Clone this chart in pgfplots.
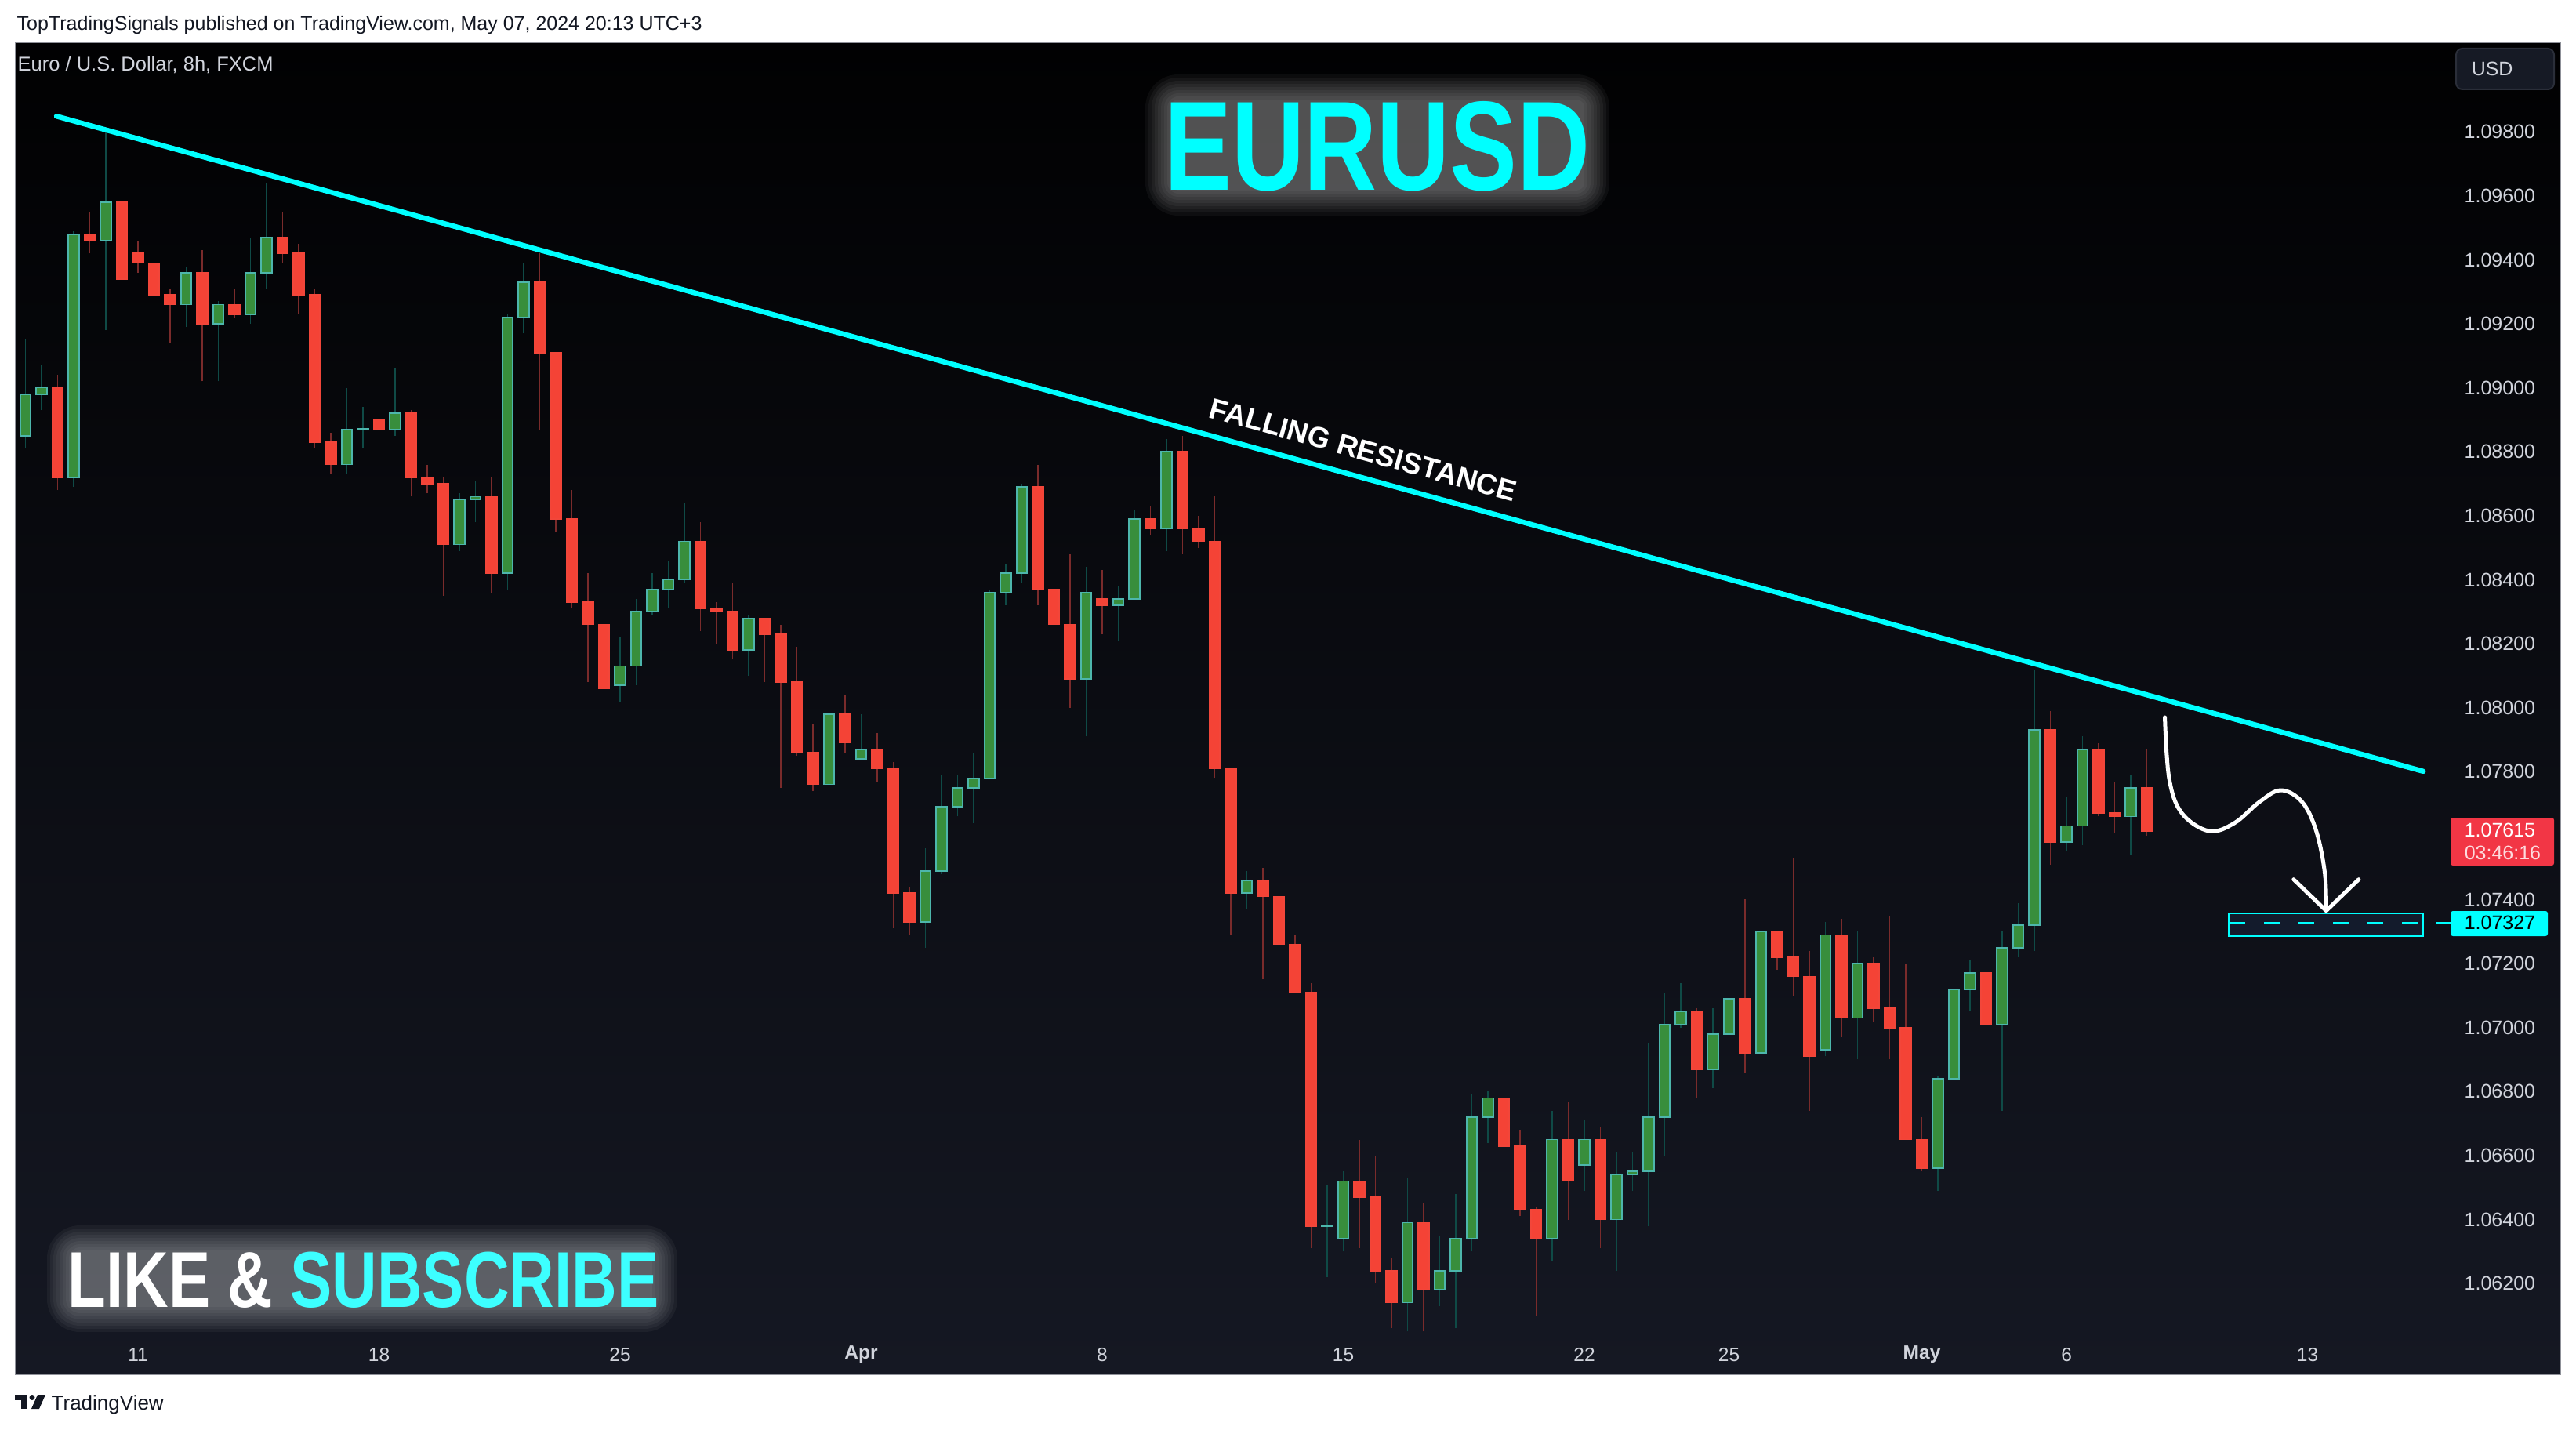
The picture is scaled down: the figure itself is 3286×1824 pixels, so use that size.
\documentclass[border=0pt]{standalone}
\usepackage{graphicx}
\usepackage{fontspec}
\setmainfont{Liberation Sans}
\usepackage{pgfplots}
\usepackage{pgfplotstable}
\pgfplotsset{compat=1.18}

\definecolor{tvcyan}{HTML}{00FFFF}
\definecolor{subcyan}{HTML}{3DFFFF}
\definecolor{upbody}{HTML}{388E3C}
\definecolor{upedge}{HTML}{4DB6AC}
\definecolor{upwick}{HTML}{0F4A46}
\definecolor{dnbody}{HTML}{F44336}
\definecolor{dnedge}{HTML}{F2463A}
\definecolor{dnwick}{HTML}{7A2B2B}
\definecolor{panetop}{HTML}{010102}
\definecolor{panebot}{HTML}{151823}
\definecolor{paneline}{HTML}{8F9199}
\definecolor{scaletxt}{HTML}{D1D4DC}
\definecolor{hdrtxt}{HTML}{131722}
\definecolor{tagred}{HTML}{F23645}
\definecolor{boxfill}{HTML}{131B2C}
\definecolor{usdfill}{HTML}{161A25}
\definecolor{usdline}{HTML}{2A2E39}

\newcommand\fsz[1]{\fontsize{#1mm}{#1mm}\selectfont}

% soft halo behind a text: stacked faint rounded boxes (x1,y1,x2,y2 in px)
\newcommand\glow[4]{%
  \foreach \e in {0,4,...,32}{%
    \pgfmathsetmacro\rc{(\e+10)*0.1}%
    \fill[white, opacity=0.042, rounded corners=\rc mm]
      ({#1-\e},{#2-\e}) rectangle ({#3+\e},{#4+\e});}}

\tikzset{
  wickup/.style={draw=upwick, line width=0.18mm, mark=none},
  wickdn/.style={draw=dnwick, line width=0.18mm, mark=none},
  bodyup/.style={draw=upedge, fill=upbody, line width=0.17mm, mark=none},
  bodydn/.style={draw=dnedge, fill=dnbody, line width=0.17mm, mark=none},
}

% EURUSD 8h candles, index 0 = Mar 11 00:00 (weekdays only)
\pgfplotstableread{
i o h l c
-7 1.0885 1.0915 1.0881 1.0898
-6 1.0898 1.0907 1.0893 1.0900
-5 1.0900 1.0904 1.0868 1.0872
-4 1.0872 1.0949 1.0869 1.0948
-3 1.0948 1.0955 1.0942 1.0946
-2 1.0946 1.0981 1.0918 1.0958
-1 1.0958 1.0967 1.0933 1.0934
0 1.0942 1.0946 1.0936 1.0939
1 1.0939 1.0948 1.0929 1.0929
2 1.0929 1.0931 1.0914 1.0926
3 1.0926 1.0938 1.0919 1.0936
4 1.0936 1.0943 1.0902 1.0920
5 1.0920 1.0927 1.0902 1.0926
6 1.0926 1.0931 1.0922 1.0923
7 1.0923 1.0947 1.0920 1.0936
8 1.0936 1.0964 1.0931 1.0947
9 1.0947 1.0955 1.0939 1.0942
10 1.0942 1.0945 1.0923 1.0929
11 1.0929 1.0931 1.0881 1.0883
12 1.0883 1.0886 1.0873 1.0876
13 1.0876 1.0900 1.0873 1.0887
14 1.0887 1.0894 1.0881 1.08872
15 1.0890 1.0892 1.0880 1.0887
16 1.0887 1.0906 1.0885 1.0892
17 1.0892 1.0893 1.0866 1.0872
18 1.0872 1.0876 1.0867 1.0870
19 1.0870 1.0872 1.0835 1.0851
20 1.0851 1.0867 1.0849 1.0865
21 1.0865 1.0871 1.0858 1.0866
22 1.0866 1.0872 1.0836 1.0842
23 1.0842 1.0923 1.0837 1.0922
24 1.0922 1.0939 1.0917 1.0933
25 1.0933 1.0942 1.0887 1.0911
26 1.0911 1.0911 1.0855 1.0859
27 1.0859 1.0868 1.0831 1.0833
28 1.0833 1.0842 1.0808 1.0826
29 1.0826 1.0832 1.0802 1.0806
30 1.0807 1.0822 1.0802 1.0813
31 1.0813 1.0834 1.0807 1.0830
32 1.0830 1.0842 1.0829 1.0837
33 1.0837 1.0846 1.0831 1.0840
34 1.0840 1.0864 1.0839 1.0852
35 1.0852 1.0858 1.0824 1.0831
36 1.0831 1.0833 1.0820 1.0830
37 1.0830 1.0839 1.0815 1.0818
38 1.0818 1.0829 1.0810 1.0828
39 1.0828 1.0828 1.0808 1.0823
40 1.0823 1.0826 1.0775 1.0808
41 1.0808 1.0819 1.0785 1.0786
42 1.0786 1.0795 1.0774 1.0776
43 1.0776 1.0805 1.0768 1.0798
44 1.0798 1.0804 1.0786 1.0789
45 1.0784 1.0798 1.0784 1.0787
46 1.0787 1.0792 1.0777 1.0781
47 1.0781 1.0783 1.0731 1.0742
48 1.0742 1.0744 1.0729 1.0733
49 1.0733 1.0756 1.0725 1.0749
50 1.0749 1.0779 1.0748 1.0769
51 1.0769 1.0779 1.0766 1.0775
52 1.0775 1.0786 1.0764 1.0778
53 1.0778 1.0837 1.0778 1.0836
54 1.0836 1.0845 1.0832 1.0842
55 1.0842 1.0870 1.0839 1.0869
56 1.0869 1.0876 1.0832 1.0837
57 1.0837 1.0844 1.0823 1.0826
58 1.0826 1.0848 1.0800 1.0809
59 1.0809 1.0844 1.0791 1.0836
60 1.0834 1.0843 1.0823 1.0832
61 1.0832 1.0838 1.0821 1.0834
62 1.0834 1.0862 1.0834 1.0859
63 1.0859 1.0863 1.0854 1.0856
64 1.0856 1.0884 1.0849 1.0880
65 1.0880 1.0885 1.0848 1.0856
66 1.0856 1.0860 1.0850 1.0852
67 1.0852 1.0866 1.0778 1.0781
68 1.0781 1.0781 1.0729 1.0742
69 1.0742 1.0749 1.0737 1.0746
70 1.0746 1.0750 1.0715 1.0741
71 1.0741 1.0756 1.0699 1.0726
72 1.0726 1.0729 1.0711 1.0711
73 1.0711 1.0714 1.0631 1.0638
74 1.0638 1.0651 1.0622 1.06382
75 1.0634 1.0655 1.0630 1.0652
76 1.0652 1.0665 1.0631 1.0647
77 1.0647 1.0660 1.0620 1.0624
78 1.0624 1.0628 1.0606 1.0614
79 1.0614 1.0653 1.0605 1.0639
80 1.0639 1.0645 1.0605 1.0618
81 1.0618 1.0635 1.0613 1.0624
82 1.0624 1.0648 1.0606 1.0634
83 1.0634 1.0679 1.0630 1.0672
84 1.0672 1.0680 1.0664 1.0678
85 1.0678 1.0690 1.0659 1.0663
86 1.0663 1.0668 1.0641 1.0643
87 1.0643 1.0644 1.0610 1.0634
88 1.0634 1.0674 1.0627 1.0665
89 1.0665 1.0677 1.0640 1.0652
90 1.0657 1.0671 1.0649 1.0665
91 1.0665 1.0669 1.0631 1.0640
92 1.0640 1.0661 1.0624 1.0654
93 1.0654 1.0661 1.0649 1.0655
94 1.0655 1.0695 1.0638 1.0672
95 1.0672 1.0711 1.0660 1.0701
96 1.0701 1.0714 1.0700 1.0705
97 1.0705 1.0706 1.0678 1.0687
98 1.0687 1.0706 1.0681 1.0698
99 1.0698 1.0710 1.0691 1.0709
100 1.0709 1.0740 1.0686 1.0692
101 1.0692 1.0739 1.0678 1.0730
102 1.0730 1.0730 1.0718 1.0722
103 1.0722 1.0753 1.0710 1.0716
104 1.0716 1.0724 1.0674 1.0691
105 1.0693 1.0733 1.0691 1.0729
106 1.0729 1.0734 1.0697 1.0703
107 1.0703 1.0730 1.0690 1.0720
108 1.0720 1.0722 1.0702 1.0706
109 1.0706 1.0735 1.0690 1.0700
110 1.0700 1.0720 1.0665 1.0665
111 1.0665 1.0672 1.0655 1.0656
112 1.0656 1.0685 1.0649 1.0684
113 1.0684 1.0733 1.0670 1.0712
114 1.0712 1.0721 1.0705 1.0717
115 1.0717 1.0728 1.0693 1.0701
116 1.0701 1.0730 1.0674 1.0725
117 1.0725 1.0739 1.0722 1.0732
118 1.0732 1.0812 1.0724 1.0793
119 1.0793 1.0799 1.0751 1.0758
120 1.0758 1.0772 1.0755 1.0763
121 1.0763 1.0791 1.0757 1.0787
122 1.0787 1.0789 1.0766 1.0767
123 1.0767 1.0777 1.0761 1.0766
124 1.0766 1.0779 1.0754 1.0775
125 1.0775 1.0787 1.0760 1.07615
}\candles

\begin{document}
\begin{tikzpicture}
% page and chart pane, in pixel units of the 3286x1824 picture (y downwards)
\begin{scope}[x=0.1mm, y=-0.1mm]
  \path[use as bounding box, fill=white] (0,0) rectangle (3286,1824);
  \shade[top color=panetop, bottom color=panebot] (20,54) rectangle (3266,1753);
  \draw[paneline, line width=0.15mm] (20,54) rectangle (3266,1753);
\end{scope}

\begin{axis}[
  at={(2mm,-175.3mm)}, anchor=south west,
  scale only axis, width=310.6mm, height=169.9mm,
  xmin=-7.61, xmax=143.9, ymin=1.05916, ymax=1.10080,
  axis line style={draw=none}, major tick length=0pt,
  xtick={0,15,30,45,60,75,90,99,111,120,135},
  xticklabels={11,18,25,\textbf{Apr},8,15,22,25,\textbf{May},6,13},
  xticklabel style={anchor=center, yshift=2.5mm, text=scaletxt, font=\fsz{2.45}},
  ytick={1.062,1.064,1.066,1.068,1.070,1.072,1.074,1.078,1.080,1.082,1.084,1.086,1.088,1.090,1.092,1.094,1.096,1.098},
  yticklabel pos=right, scaled y ticks=false,
  yticklabel style={anchor=west, inner sep=0pt, xshift=1.7mm, text=scaletxt, font=\fsz{2.5},
    /pgf/number format/fixed, /pgf/number format/fixed zerofill,
    /pgf/number format/precision=5, /pgf/number format/assume math mode=true},
]
  \pgfplotstablegetrowsof{\candles}
  \pgfmathtruncatemacro\nlast{\pgfplotsretval-1}
  \pgfplotsforeachungrouped \k in {0,...,\nlast}{%
    \pgfplotstablegetelem{\k}{i}\of\candles \let\ci\pgfplotsretval
    \pgfplotstablegetelem{\k}{o}\of\candles \let\co\pgfplotsretval
    \pgfplotstablegetelem{\k}{h}\of\candles \let\ch\pgfplotsretval
    \pgfplotstablegetelem{\k}{l}\of\candles \let\cl\pgfplotsretval
    \pgfplotstablegetelem{\k}{c}\of\candles \let\cc\pgfplotsretval
    \pgfmathsetmacro\xa{\ci-0.33}%
    \pgfmathsetmacro\xb{\ci+0.33}%
    \pgfmathtruncatemacro\up{\cc>=\co}%
    \ifnum\up=1 \def\tone{up}\else\def\tone{dn}\fi
    \edef\candle{%
      \noexpand\addplot[wick\tone] coordinates {(\ci,\cl) (\ci,\ch)};
      \noexpand\addplot[body\tone] coordinates {(\xa,\co) (\xb,\co) (\xb,\cc) (\xa,\cc)} -- cycle;
    }\candle
  }
  % falling resistance
  \addplot[tvcyan, line width=0.65mm, line cap=round, mark=none]
    coordinates {(-5.07,1.09849) (142.2,1.07801)};
\end{axis}

\begin{scope}[x=0.1mm, y=-0.1mm]
  % header and legend
  \node[anchor=base west, inner sep=0pt, text=hdrtxt, font=\fsz{2.5}] at (21,39)
    {TopTradingSignals published on TradingView.com, May 07, 2024 20:13 UTC+3};
  \node[anchor=base west, inner sep=0pt, text=scaletxt, font=\fsz{2.55}] at (22,91)
    {Euro / U.S. Dollar, 8h, FXCM};
  % currency button
  \draw[usdline, fill=usdfill, line width=0.2mm, rounded corners=0.8mm] (3133,62) rectangle (3258,114);
  \node[anchor=base west, inner sep=0pt, text=scaletxt, font=\fsz{2.5}] at (3152,97) {USD};

  % title
  \glow{1493}{127}{2021}{243}
  \node[anchor=base, inner sep=0pt, text=tvcyan, font=\fsz{16.2}\bfseries] at (1757,243)
    {\scalebox{0.795}[1]{EURUSD}};

  % label of the trend line
  \node[rotate=-15.47, inner sep=0pt, text=white, font=\fsz{3.7}\bfseries] at (1739,574)
    {FALLING RESISTANCE};

  % LIKE & SUBSCRIBE
  \glow{92}{1595}{832}{1667}
  \node[anchor=base west, inner sep=0pt, font=\fsz{10.1}\bfseries] at (86,1667)
    {\scalebox{0.79}[1]{\textcolor{white}{LIKE \&} \textcolor{subcyan}{SUBSCRIBE}}};

  % projected path
  \draw[white, line width=0.5mm, line cap=round, line join=round]
    plot[smooth, tension=0.6] coordinates {(2761.5,915) (2767,993) (2783,1037) (2817.5,1060)
      (2850,1050) (2882,1023) (2909.5,1008) (2936.6,1023) (2954.6,1060) (2965.5,1113) (2967.3,1160)};
  \draw[white, line width=0.5mm, line cap=round, line join=round]
    (2925.8,1121.7) -- (2967.3,1161.7) -- (3008.8,1121.7);

  % target zone
  \draw[tvcyan, fill=boxfill, line width=0.25mm] (2843,1165) rectangle (3091,1194);
  \draw[tvcyan, line width=0.3mm, dash pattern=on 2mm off 2.4mm] (2844,1177.5) -- (3126,1177.5);

  % price tags
  \fill[tagred, rounded corners=0.3mm] (3126,1043) rectangle (3258,1104);
  \node[anchor=base west, inner sep=0pt, text=white, font=\fsz{2.5}] at (3143,1067) {1.07615};
  \node[anchor=base west, inner sep=0pt, text=white!82!tagred, font=\fsz{2.5}] at (3143,1096) {03:46:16};
  \fill[tvcyan, rounded corners=0.3mm] (3126,1162) rectangle (3250,1194);
  \node[anchor=base west, inner sep=0pt, text=black, font=\fsz{2.5}] at (3143,1185) {1.07327};

  % footer logo
  \fill[hdrtxt] (19,1779) rectangle (35,1786);
  \fill[hdrtxt] (27,1786) rectangle (35,1797);
  \fill[hdrtxt] (41,1782.5) circle (3.5);
  \fill[hdrtxt] (48,1779) -- (58,1779) -- (50,1797) -- (40,1797) -- cycle;
  \node[anchor=base west, inner sep=0pt, text=hdrtxt, font=\fsz{2.6}] at (65,1798) {TradingView};
\end{scope}
\end{tikzpicture}
\end{document}
